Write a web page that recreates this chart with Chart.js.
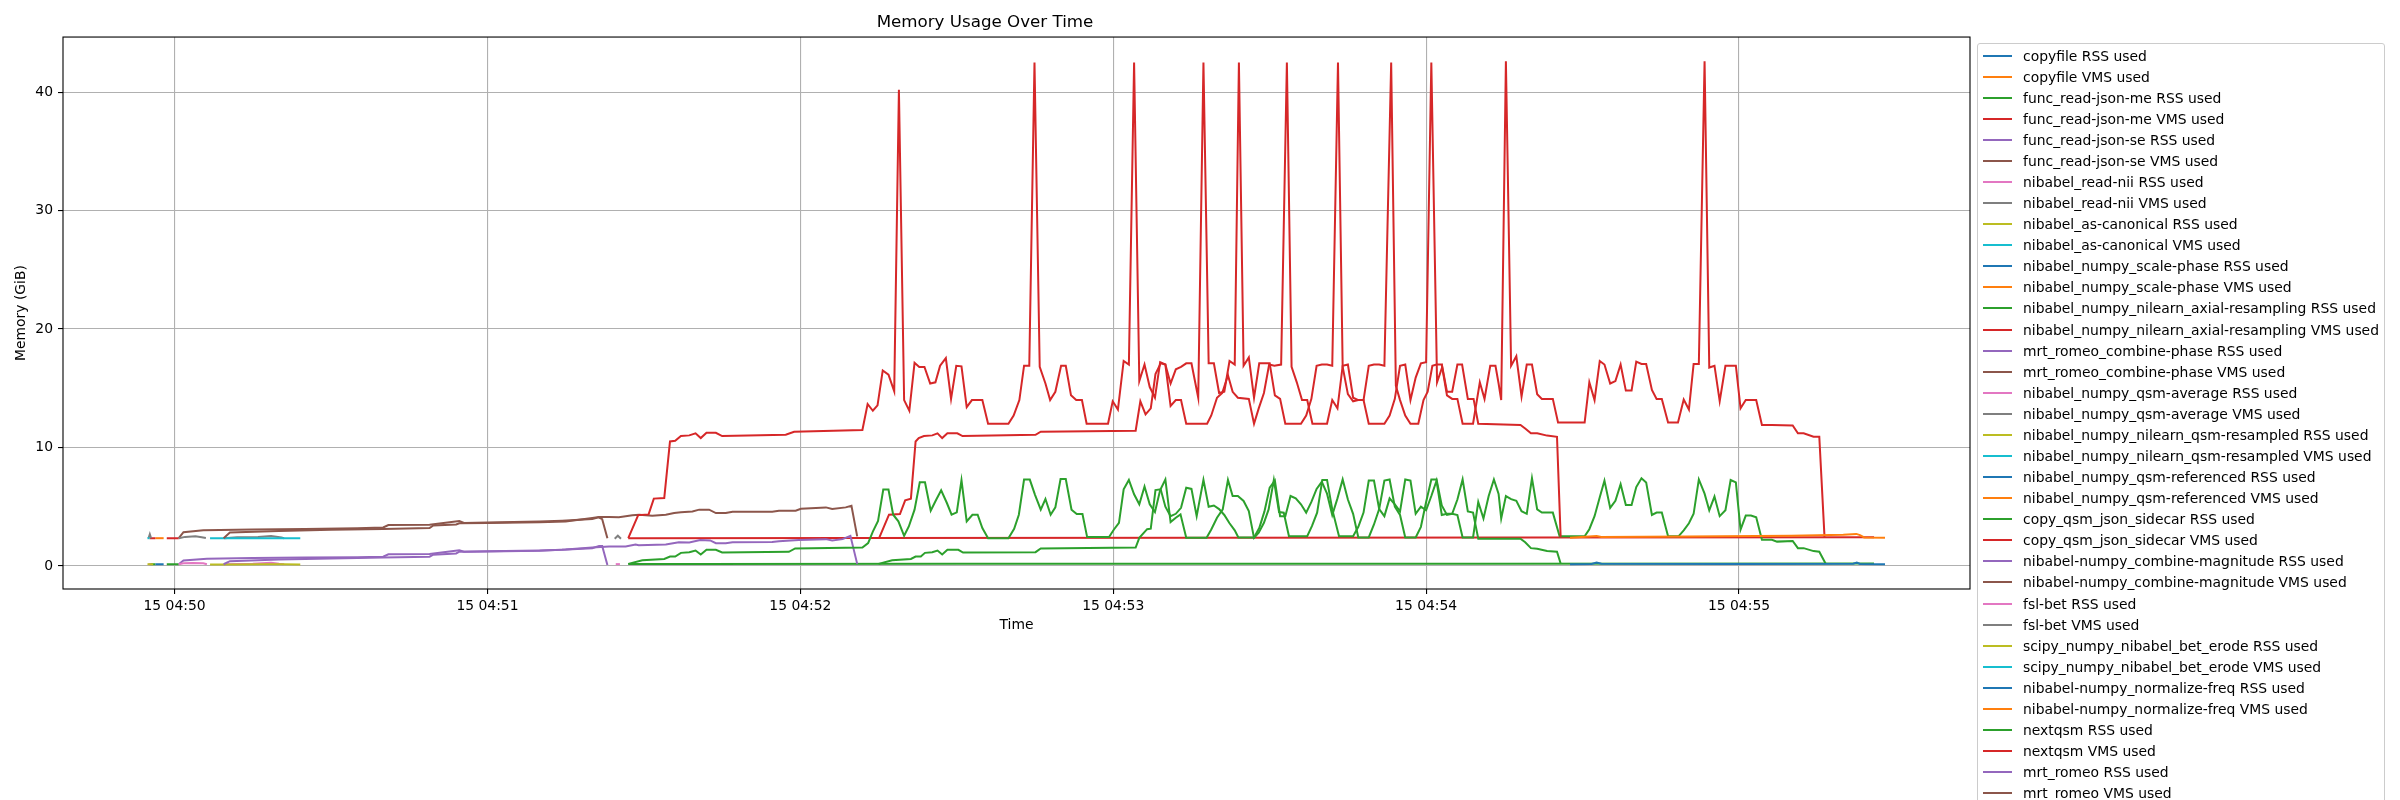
<!DOCTYPE html>
<html>
<head>
<meta charset="utf-8">
<script src="https://cdn.jsdelivr.net/npm/chart.js@4.4.1/dist/chart.umd.min.js"></script>
<style>
  html, body { margin:0; padding:0; background:#fff; width:2400px; height:800px; overflow:hidden; }
  #wrap { position:relative; width:2400px; height:800px; overflow:hidden; }
  canvas { position:absolute; left:0; top:0; }
  #legend { position:absolute; left:1977px; top:43px; width:408px; height:900px; border:1px solid #cccccc; border-radius:3px;
            background:rgba(255,255,255,0.8); font-family:'DejaVu Sans', sans-serif; font-size:13.9px; color:#000; padding-top:1px; box-sizing:border-box; }
  .row { height:21.08px; display:flex; align-items:center; white-space:nowrap; }
  .sw { margin-left:5px; width:29px; height:2px; flex:none; }
  .tx { margin-left:11px; }
</style>
</head>
<body>
<div id="wrap">
  <canvas id="c" width="2400" height="800"></canvas>
  <div id="legend"></div>
</div>
<script>
// ---- tick labels (x in seconds after 04:50:00) ----
const xTickValues = [0, 60, 120, 180, 240, 300];
const xTickLabels = ['15 04:50', '15 04:51', '15 04:52', '15 04:53', '15 04:54', '15 04:55'];
const yTickValues = [0, 10, 20, 30, 40];

// ---- series: [seconds after 04:50:00, GiB]; y = null breaks a line ----
const copyfileRSS = [[-3.7,0.14],[-2.1,0.14]];
const copyfileVMS = [[-3.7,2.34],[-2.1,2.34]];
const jsonMeRSS = [[-4.8,0.14],[-3.7,0.14],[-2.6,null],[-1.5,0.14],[0.8,0.14]];
const jsonMeVMS = [[-4.8,2.34],[-3.7,2.34],[-2.6,null],[-1.5,2.34],[0.8,2.34]];
const jsonSeRSS = [[0.8,0.14],[1.7,0.45],[6.2,0.6],[15,0.66],[25,0.7],[35,0.74],[40,0.78],[41,0.98],[48.9,1.0],[54.6,1.32],[55.5,1.2],[60,1.24],[70,1.3],[74.3,1.36],[80.1,1.5],[81.4,1.69],[82,1.69],[83,0.08]];
const jsonSeVMS = [[0.8,2.34],[1.7,2.85],[5.5,3.02],[15,3.08],[25,3.12],[35,3.18],[40,3.24],[41,3.45],[48.9,3.47],[54.6,3.78],[55.5,3.62],[60,3.66],[70,3.75],[74.3,3.82],[80.1,3.95],[81.3,4.1],[82,3.95],[83,2.34]];
const readNiiRSS = [[0.8,0.14],[1.7,0.22],[3.5,0.25],[5.5,0.22],[6.2,0.14],[7.8,null],[9.5,0.14],[15,0.18],[18.5,0.26],[20,0.18],[21,0.14]];
const readNiiVMS = [[0.8,2.34],[2,2.45],[4,2.5],[5.2,2.42],[6,2.36],[7.8,null],[9.5,2.34],[12,2.42],[16,2.45],[18.5,2.52],[20.5,2.4],[21,2.34]];
const canonicalRSS = [[6.8,0.12],[12,0.12],[17,0.14],[21,0.13],[24.1,0.12]];
const canonicalVMS = [[6.8,2.34],[15,2.34],[24.1,2.34]];
const scalePhaseRSS = [];
const scalePhaseVMS = [];
const axialRSS = [[87,0.17],[100,0.17],[150,0.18],[200,0.18],[250,0.19],[325.9,0.2]];
const axialVMS = [[87,2.34],[130,2.36],[200,2.38],[260,2.4],[325.9,2.42]];
const combinePhaseRSS = [[9.4,0.14],[10.6,0.4],[20,0.55],[30,0.62],[40,0.7],[48.9,0.78],[49.6,0.95],[54,1.05],[54.6,1.2],[60,1.22],[70,1.28],[75,1.38],[80.1,1.55],[83.3,1.64],[86.5,1.64],[88.4,1.81],[89,1.75],[94.2,1.81],[96.7,2.0],[98.7,1.98],[100.8,2.18],[102.7,2.15],[103.8,1.92],[105.7,1.92],[107,2.0],[114.6,2.02],[115.9,2.09],[119.7,2.18],[124.9,2.26],[126.1,2.15],[128.1,2.26],[129.6,2.54],[130.9,0.17]];
const combinePhaseVMS = [[9.4,2.34],[10.6,2.82],[20,2.95],[30,3.05],[40,3.12],[48.9,3.19],[49.6,3.42],[54,3.5],[54.6,3.6],[60,3.62],[70,3.68],[75,3.75],[80.1,4.04],[81.4,4.12],[83.3,4.12],[85.2,4.1],[87.8,4.27],[89.1,4.32],[91.6,4.24],[94.2,4.32],[95.8,4.46],[97.1,4.52],[99.3,4.6],[100.6,4.75],[102.5,4.75],[103.8,4.46],[105.7,4.46],[107,4.58],[114.6,4.58],[115.9,4.66],[119.1,4.66],[120.1,4.83],[124.9,4.94],[126.1,4.8],[128.7,4.94],[129.8,5.08],[130.9,2.49]];
const qsmAverageRSS = [[-5.0,0.14],[-4.5,0.14]];
const qsmAverageVMS = [[-5.0,2.34],[-4.75,2.68],[-4.5,2.34]];
const qsmResampledRSS = [[-5.2,0.14],[-4.1,0.14]];
const qsmResampledVMS = [[-5.2,2.34],[-4.8,2.34]];
const qsmReferencedRSS = [];
const qsmReferencedVMS = [];
const sidecarRSS = [[135.0,0.17],[137.6,0.48],[141.2,0.59],[142.1,0.79],[143.1,0.79],[143.9,1.1],[145.3,1.16],[146.3,1.3],[147.2,0.96],[148.2,1.36],[150.3,1.36],[151.2,1.13],[165.1,1.16],[166.1,1.47],[184.3,1.55],
  [185,2.37],[186.5,3.1],[187.2,3.14],[188.1,6.4],[189.1,6.47],[190,5.0],[191,4.2],[192,4.4],[193,4.9],[194,6.6],[195,6.5],[196,4.2],[197.3,7.26],[198.3,5.0],[199.3,5.1],[200.3,4.8],[201.3,4.3],[202.3,3.6],[203.3,3.0],[204,2.4],[207,2.4],[208,3.2],[209,4.6],[210,6.6],[211,7.2],[212,4.2],[213,4.2],[214,5.9],[215,5.7],[216,5.2],[217,4.5],[218,5.4],[219,6.5],[220,7.1],[221,6.1],[222,4.3],[223,5.7],[224,7.3],[225,5.6],[226,4.4],[227,2.4],[229,2.4],[230,3.5],[231,4.8],[232,7.2],[233,7.3],[234,5.0],[235,4.3],[236,2.4],[238,2.4],[239,3.3],[240,5.4],[241,7.3],[242,7.3],[243,5.1],[244,4.3],[245,4.4],[246,4.3],[247,2.4],[249,2.4],[250,5.4],[251,4.0],[252,5.9],[253,7.3],[253.9,6.08],
  [254.4,4.0],[255.3,5.9],[256.3,5.64],[257.3,5.5],[258.3,4.62],[259.3,4.4],[260.3,7.4],[261.3,4.77],[262.2,4.5],[264.3,4.5],[265.6,2.5],[270.4,2.5],[271.3,3.1],[272.3,4.2],[273.3,5.8],[274.2,7.2],[275.3,4.9],[276.3,5.5],[277.3,6.9],[278.3,5.15],[279.4,5.15],[280.3,6.66],[281.3,7.4],[282.2,7.05],[283.3,4.3],[284.2,4.5],[285.2,4.5],[286.4,2.5],[288.4,2.5],[289.4,3.0],[290.4,3.6],[291.3,4.4],[292.3,7.3],[293.4,6.1],[294.3,4.7],[295.3,5.85],[296.3,4.2],[297.4,4.7],[298.4,7.25],[299.4,7.05],[300.3,3.07],[301.3,4.25],[302.3,4.25],[303.3,4.1],[304.4,2.2],[306.3,2.2],[307.3,2.05],[310.3,2.1],[311.3,1.5],[312.4,1.5],[314.3,1.25],[315.4,1.2],[316.6,0.2]];
const sidecarVMS = [[135.1,2.34],[137.0,4.32],[139.1,4.38],[140.1,5.54],[141.2,5.68],[142.1,10.5],[142.7,10.8],[143.7,10.96],[145.3,11.02],[146.3,11.19],[147.2,10.79],[148.2,11.19],[150.1,11.19],[151.1,10.96],[165.1,11.07],[166.1,11.33],[184.3,11.42],
  [185.2,13.9],[186.2,12.8],[187.2,13.3],[188.1,16.2],[189.1,17.1],[190,17.0],[191,15.4],[192,16.6],[193,16.8],[194,17.1],[195,17.1],[196.3,14.2],[197.3,42.5],[198.3,17.1],[199.3,17.1],[200.3,14.6],[201.3,14.7],[202.3,17.3],[203.3,17.0],[204.1,42.5],[205,16.9],[206,17.6],[207,14.2],[208,17.1],[209,17.1],[210,17.1],[211,14.4],[212,14.1],[213,12.0],[216,12.0],[217,12.7],[218,14.1],[219,16.9],[220,17.0],[221,17.0],[222,16.9],[223.1,42.5],[224,16.8],[225,14.5],[226,13.9],[227,14.0],[228,14.0],[229,16.9],[230,17.0],[231,17.0],[232,16.9],[233.3,42.5],[234.2,15.2],[235,14.0],[236,12.7],[237,12.0],[238.5,12.0],[239.5,14.0],[240.3,14.7],[241.2,16.9],[242,17.0],[243,17.0],[244,14.4],[245,14.1],[246,14.1],[247,12.0],[249,12.0],[250.3,15.5],[251.2,14.1],[252.3,16.9],[253.3,16.9],[253.9,15.4],[254.4,14.0],
  [255.3,42.6],[256.3,16.9],[257.3,17.7],[258.3,14.3],[259.3,17.0],[260.3,17.0],[261.3,14.5],[262.2,14.1],[264.3,14.1],[265.3,12.1],[270.4,12.1],[271.3,15.5],[272.3,14.0],[273.3,17.3],[274.2,17.0],[275.3,15.4],[276.3,15.6],[277.3,17.0],[278.3,14.8],[279.4,14.8],[280.3,17.25],[281.3,17.05],[282.2,17.05],[283.3,14.85],[284.2,14.1],[285.2,14.1],[286.4,12.1],[288.3,12.1],[289.4,14.05],[290.4,13.2],[291.3,17.05],[292.3,17.05],[293.4,42.6],[294.3,16.75],[295.3,16.9],[296.3,13.9],[297.4,16.9],[299.4,16.9],[300.3,13.3],[301.3,14.0],[303.3,14.0],[304.4,11.9],[306.3,11.9],[310.3,11.85],[311.3,11.2],[312.4,11.2],[314.3,10.9],[315.4,10.9],[316.4,2.45]];
const combineMagRSS = [];
const combineMagVMS = [];
const fslBetRSS = [[84.6,0.15],[85.4,0.15]];
const fslBetVMS = [[84.4,2.3],[85,2.55],[85.6,2.3]];
const betErodeRSS = [];
const betErodeVMS = [];
const normFreqRSS = [[267.6,0.14],[271.7,0.16],[272.7,0.28],[273.6,0.18],[300,0.16],[321.9,0.18],[322.6,0.28],[323.2,0.16],[328,0.14]];
const normFreqVMS = [[267.6,2.37],[272.7,2.52],[273.6,2.45],[290,2.48],[310,2.55],[320,2.62],[322.5,2.7],[323.2,2.6],[324,2.4],[328,2.37]];
const nextqsmRSS = [[87.0,0.17],[89.7,0.48],[93.9,0.59],[95.0,0.79],[96.0,0.79],[97.1,1.1],[98.7,1.16],[99.9,1.3],[100.9,0.96],[102.0,1.36],[103.8,1.36],[105.0,1.13],[117.8,1.19],[119.0,1.47],[131.9,1.55],[133.0,1.92],[133.9,2.9],[134.9,3.8],[135.9,6.44],[136.9,6.44],[137.8,4.32],[138.8,3.76],[139.9,2.54],[140.8,3.33],[141.9,4.75],[142.9,7.06],[143.9,7.06],[145.0,4.66],[146.0,5.54],[147.0,6.38],[148.1,5.31],[149.0,4.32],[150.0,4.52],[150.9,7.23],[151.9,3.76],[153.0,4.32],[154.0,4.32],[154.9,3.19],[156.0,2.34],[159.9,2.34],[161.0,3.14],[161.9,4.32],[162.9,7.29],[164.0,7.29],[165.0,6.0],[166.1,4.75],[167.0,5.65],[168.0,4.32],[168.9,4.94],[169.9,7.34],[170.9,7.34],[172.0,4.75],[173.0,4.38],[174.1,4.38],[175.0,2.43],[179.2,2.43],[180.1,3.05],[181.1,3.64],
  [182,6.47],[183,7.26],[184,6.05],[185,5.2],[186,6.7],[187,5.2],[188,4.55],[189,6.4],[190,7.3],[191,3.7],[192,4.07],[192.9,4.35],[194,2.37],[197.9,2.37],[198.8,3.08],[199.9,4.07],[201,4.77],[202,7.26],[202.9,5.9],[203.9,5.9],[205,5.48],[206,4.63],[207,2.37],[207.9,2.8],[208.9,3.64],[209.8,4.77],[210.8,7.26],[211.8,4.55],[212.7,4.49],[213.7,2.5],[217.2,2.5],[218.1,3.36],[219.1,4.49],[220.1,7.26],[221,7.26],[222,4.77],[223.3,2.5],[226,2.5],[227,3.3],[228,4.5],[229,7.2],[230,7.2],[231,4.8],[232,4.2],[233,5.7],[234,5.2],[235,4.6],[236,7.3],[237,7.2],[238,4.4],[239,5.0],[240,4.7],[241,5.9],[242,7.2],[243,4.3],[244,4.4],[245,4.4],[246,5.6],[247,7.3],[248,4.6],[249,4.5],[250,2.3],[258.1,2.3],[259,2.0],[260.1,1.5],[261.3,1.45],[263.2,1.25],[265.1,1.2],[265.8,0.2]];
const nextqsmVMS = [[87.0,2.34],[88.9,4.29],[90.9,4.35],[91.9,5.68],[93.9,5.73],[95.0,10.51],[96.0,10.56],[97.1,10.96],[98.7,11.02],[99.9,11.19],[100.9,10.79],[102.0,11.24],[103.8,11.24],[105.0,10.96],[117.2,11.07],[118.8,11.33],[131.9,11.47],[132.9,13.67],[133.9,13.1],[134.8,13.56],[135.8,16.5],[136.9,16.15],[138.0,14.74],[138.9,40.2],[139.9,14.0],[140.9,13.1],[141.9,17.15],[142.8,16.8],[143.8,16.8],[144.9,15.4],[145.9,15.5],[146.8,16.9],[147.9,17.55],[148.9,14.1],[149.9,16.9],[150.9,16.85],[151.9,13.4],[152.9,14.0],[154.9,14.0],[156.0,12.0],[159.9,12.0],[160.9,12.7],[162.0,14.0],[162.9,16.9],[163.9,16.9],[164.9,42.5],[165.9,16.8],[167.0,15.4],[167.9,14.0],[168.9,14.7],[170.0,16.9],[170.9,16.9],[171.9,14.4],[172.9,14.0],[174.0,14.0],[174.9,12.0],[179.0,12.0],[179.9,13.9],[180.9,13.2],
  [182,17.3],[183,17.0],[184,42.5],[185,15.6],[186,17.0],[187,15.1],[188,14.2],[189,17.2],[190,17.0],[191,13.5],[192,14.0],[193,14.0],[194,12.0],[198,12.0],[198.8,12.7],[199.9,14.2],[200.9,14.6],[202,16.1],[202.9,14.7],[203.9,14.2],[206,14.1],[207,12.0],[207.9,13.3],[208.9,14.6],[209.9,17.0],[210.9,16.9],[212.2,17.0],[213.3,42.5],[214.2,16.8],[215.2,15.5],[216.2,14.0],[217.2,14.0],[218.2,12.0],[221,12.0],[222,14.0],[223,13.3],[224,16.9],[225,17.0],[226,14.2],[227,14.0],[228,14.0],[229,12.0],[232,12.0],[233,12.7],[234,14.1],[235,16.9],[236,17.0],[237,14.0],[238,15.9],[239,17.1],[240,17.2],[241,42.5],[242.1,15.5],[243.1,16.8],[244,14.7],[245,14.7],[246,17.0],[246.9,17.0],[248,14.1],[249.1,14.1],[250,12.0],[258.1,11.9],[259,11.6],[260.1,11.2],[261.3,11.2],[263.2,11.0],[265.1,10.9],[265.8,2.45]];
const romeoRSS = [];
const romeoVMS = [];

const seriesLabels = [
  'copyfile RSS used','copyfile VMS used',
  'func_read-json-me RSS used','func_read-json-me VMS used',
  'func_read-json-se RSS used','func_read-json-se VMS used',
  'nibabel_read-nii RSS used','nibabel_read-nii VMS used',
  'nibabel_as-canonical RSS used','nibabel_as-canonical VMS used',
  'nibabel_numpy_scale-phase RSS used','nibabel_numpy_scale-phase VMS used',
  'nibabel_numpy_nilearn_axial-resampling RSS used','nibabel_numpy_nilearn_axial-resampling VMS used',
  'mrt_romeo_combine-phase RSS used','mrt_romeo_combine-phase VMS used',
  'nibabel_numpy_qsm-average RSS used','nibabel_numpy_qsm-average VMS used',
  'nibabel_numpy_nilearn_qsm-resampled RSS used','nibabel_numpy_nilearn_qsm-resampled VMS used',
  'nibabel_numpy_qsm-referenced RSS used','nibabel_numpy_qsm-referenced VMS used',
  'copy_qsm_json_sidecar RSS used','copy_qsm_json_sidecar VMS used',
  'nibabel-numpy_combine-magnitude RSS used','nibabel-numpy_combine-magnitude VMS used',
  'fsl-bet RSS used','fsl-bet VMS used',
  'scipy_numpy_nibabel_bet_erode RSS used','scipy_numpy_nibabel_bet_erode VMS used',
  'nibabel-numpy_normalize-freq RSS used','nibabel-numpy_normalize-freq VMS used',
  'nextqsm RSS used','nextqsm VMS used',
  'mrt_romeo RSS used','mrt_romeo VMS used'
];
const seriesValues = [
  copyfileRSS, copyfileVMS, jsonMeRSS, jsonMeVMS, jsonSeRSS, jsonSeVMS, readNiiRSS, readNiiVMS,
  canonicalRSS, canonicalVMS, scalePhaseRSS, scalePhaseVMS, axialRSS, axialVMS, combinePhaseRSS, combinePhaseVMS,
  qsmAverageRSS, qsmAverageVMS, qsmResampledRSS, qsmResampledVMS, qsmReferencedRSS, qsmReferencedVMS,
  sidecarRSS, sidecarVMS, combineMagRSS, combineMagVMS, fslBetRSS, fslBetVMS, betErodeRSS, betErodeVMS,
  normFreqRSS, normFreqVMS, nextqsmRSS, nextqsmVMS, romeoRSS, romeoVMS
];
const palette = ['#1f77b4','#ff7f0e','#2ca02c','#d62728','#9467bd','#8c564b','#e377c2','#7f7f7f','#bcbd22','#17becf'];

const N = seriesLabels.length;
const datasets = seriesLabels.map((lab, i) => ({
  label: lab,
  data: seriesValues[i].map(p => ({x: p[0], y: p[1]})),
  borderColor: palette[i % 10],
  backgroundColor: palette[i % 10],
  borderWidth: 2,
  pointRadius: 0,
  pointHoverRadius: 0,
  fill: false,
  tension: 0,
  spanGaps: false,
  order: N - i
}));

const FONT = 'DejaVu Sans';
const frame = {
  id: 'frame',
  afterDraw(chart) {
    const a = chart.chartArea, ctx = chart.ctx;
    ctx.save();
    ctx.strokeStyle = '#000';
    ctx.lineWidth = 1.1;
    ctx.strokeRect(a.left, a.top, a.right - a.left, a.bottom - a.top);
    ctx.restore();
  }
};

new Chart(document.getElementById('c'), {
  type: 'line',
  data: { datasets },
  plugins: [frame],
  options: {
    responsive: false,
    animation: false,
    devicePixelRatio: 1,
    parsing: true,
    layout: { padding: { left: 0, right: 430, top: 0, bottom: 0 } },
    plugins: {
      legend: { display: false },
      tooltip: { enabled: false },
      title: { display: true, text: 'Memory Usage Over Time', color: '#000',
               font: { family: FONT, size: 16.7, weight: 'normal' }, padding: { top: 13, bottom: 4 } }
    },
    scales: {
      x: {
        type: 'linear', min: -21.4, max: 344.3,
        afterBuildTicks(s) { s.ticks = xTickValues.map(v => ({ value: v })); },
        afterFit(s) { s.height = 211; },
        ticks: { color: '#000', font: { family: FONT, size: 13.9 }, padding: 4, maxRotation: 0, autoSkip: false,
                 callback: (v) => xTickLabels[xTickValues.indexOf(v)] },
        grid: { color: '#b0b0b0', lineWidth: 1.1, drawTicks: true, tickLength: 5, tickColor: '#000', tickWidth: 1.1 },
        border: { display: false },
        title: { display: true, text: 'Time', color: '#000', font: { family: FONT, size: 13.9 }, padding: { top: 0, bottom: 166.7 } }
      },
      y: {
        type: 'linear', min: -1.95, max: 44.65,
        afterBuildTicks(s) { s.ticks = yTickValues.map(v => ({ value: v })); },
        afterFit(s) { s.width = 63; },
        ticks: { color: '#000', font: { family: FONT, size: 13.9 }, padding: 5, callback: (v) => String(v) },
        grid: { color: '#b0b0b0', lineWidth: 1.1, drawTicks: true, tickLength: 5, tickColor: '#000', tickWidth: 1.1 },
        border: { display: false },
        title: { display: true, text: 'Memory (GiB)', color: '#000', font: { family: FONT, size: 13.9 }, padding: { top: 12.7, bottom: 0 } }
      }
    }
  }
});

// legend (matplotlib-style, outside right)
const leg = document.getElementById('legend');
seriesLabels.forEach((lab, i) => {
  const r = document.createElement('div'); r.className = 'row';
  const s = document.createElement('div'); s.className = 'sw'; s.style.background = palette[i % 10];
  const t = document.createElement('span'); t.className = 'tx'; t.textContent = lab;
  r.appendChild(s); r.appendChild(t); leg.appendChild(r);
});
</script>
</body>
</html>
